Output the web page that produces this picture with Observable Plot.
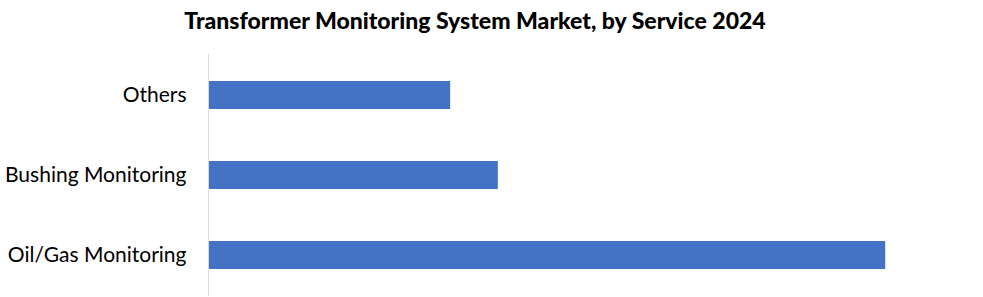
<!DOCTYPE html>
<html>
<head>
<meta charset="utf-8">
<script src="https://cdn.jsdelivr.net/npm/d3@7"></script>
<script src="https://cdn.jsdelivr.net/npm/@observablehq/plot@0.6"></script>
<style>
  html, body { margin: 0; padding: 0; background: #fff; }
  #wrap { width: 983px; height: 297px; position: relative; overflow: hidden; }
  #title { position: absolute; top: 6px; left: 0; width: 950px; text-align: center;
    font-family: Lato, "Open Sans", sans-serif; font-weight: 900; font-size: 23px; color: #000; }
  #chart { position: absolute; top: 46px; left: 0; }
</style>
</head>
<body>
<div id="wrap">
  <div id="title">Transformer Monitoring System Market, by Service 2024</div>
  <div id="chart"></div>
</div>
<script>
const categories = ["Others", "Bushing Monitoring", "Oil/Gas Monitoring"];
const values = [32.5, 38.9, 90.9];

const data = categories.map((c, i) => ({category: c, value: values[i]}));

const plot = Plot.plot({
  width: 983,
  height: 251,
  marginTop: 8,
  marginBottom: 1,
  marginLeft: 208,
  marginRight: 30,
  style: {fontFamily: "Lato, 'Open Sans', sans-serif", fontSize: "21px", color: "#000", background: "#fff"},
  x: {domain: [0, 100], axis: null},
  y: {domain: categories, paddingInner: 0.65, paddingOuter: 0.33, label: null, tickSize: 0, tickPadding: 22},
  marks: [
    Plot.barX(data, {x: "value", y: "category", fill: "#4472C4"}),
    Plot.ruleX([0], {stroke: "#d9d9d9", strokeWidth: 1})
  ]
});
document.getElementById("chart").appendChild(plot);
</script>
</body>
</html>
